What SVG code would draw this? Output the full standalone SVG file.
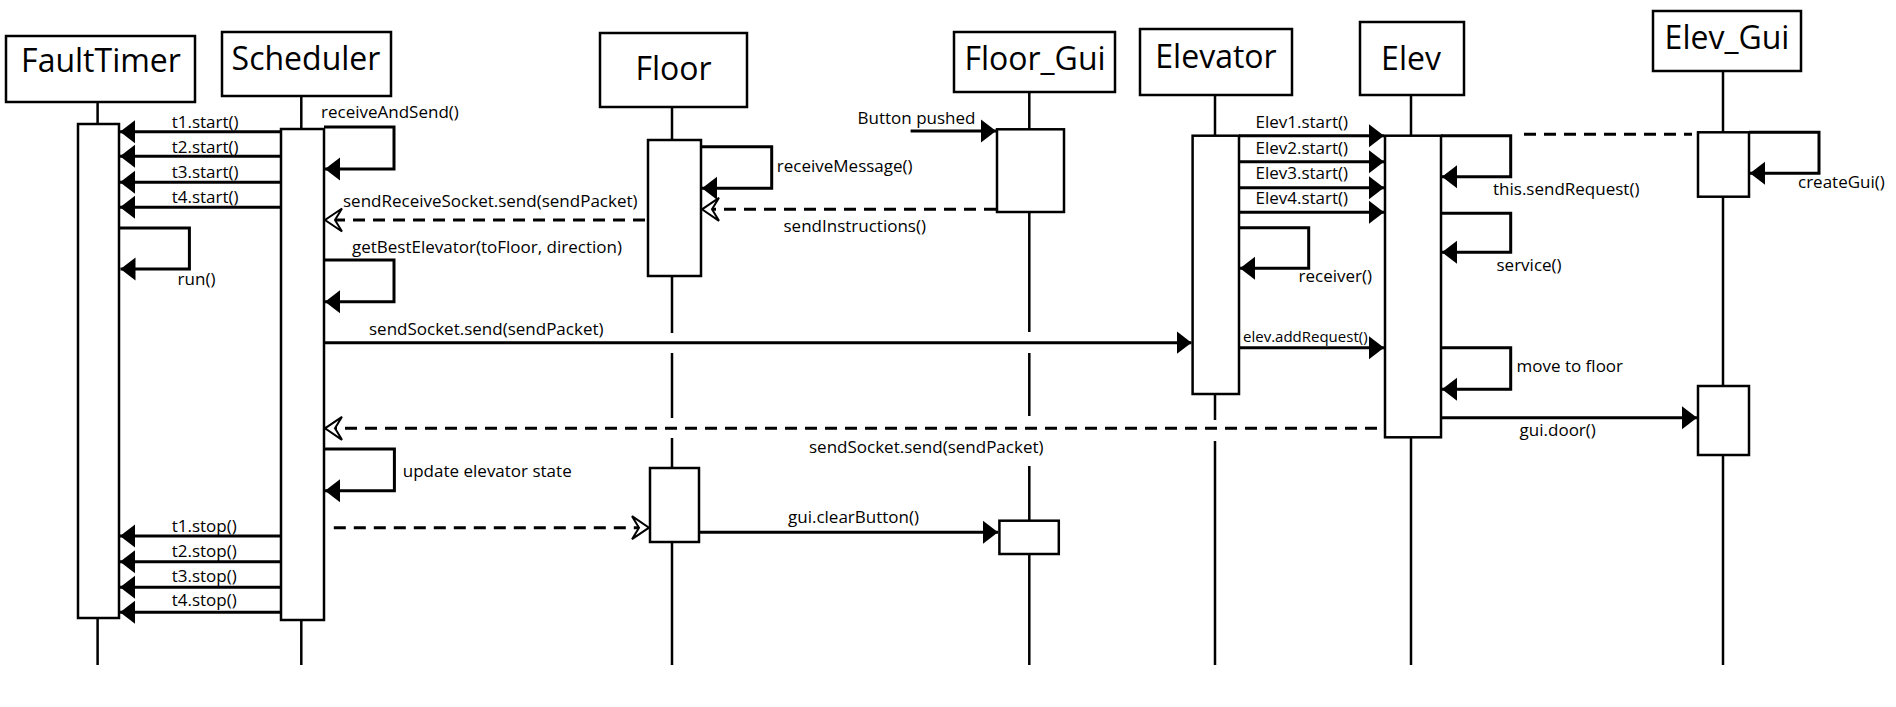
<svg xmlns="http://www.w3.org/2000/svg" width="1896" height="707" viewBox="0 0 1896 707">
<style>
.box{fill:#fff;stroke:#000;stroke-width:2.5}
.ll{stroke:#000;stroke-width:2.5;fill:none}
.msg{stroke:#000;stroke-width:3;fill:none;marker-end:url(#fa)}
.ret{stroke:#000;stroke-width:3;fill:none;stroke-dasharray:12 8;marker-end:url(#oa)}
.dash{stroke:#000;stroke-width:3;fill:none;stroke-dasharray:12 8}
.title{font-family:"Open Sans",sans-serif;font-size:32px;text-anchor:middle;fill:#000}
.lbl{font-family:"Open Sans",sans-serif;font-size:17px;fill:#000}
.sm{font-size:15px}
</style>
<defs>
<marker id="fa" markerUnits="userSpaceOnUse" viewBox="0 -12 16 24" refX="15" refY="0" markerWidth="16" markerHeight="24" orient="auto">
<path d="M0,-11.5 L15,0 L0,11.5 Z" fill="#000"/>
</marker>
<marker id="oa" markerUnits="userSpaceOnUse" viewBox="-2 -14 22 28" refX="17" refY="0" markerWidth="22" markerHeight="28" orient="auto">
<path d="M0,-11.5 L17,0 L0,11.5 L7,0 Z" fill="#fff" stroke="#000" stroke-width="2"/>
</marker>
</defs>
<rect width="1896" height="707" fill="#fff"/>

<g id="FaultTimer">
<rect class="box" x="6" y="36" width="189" height="66"/>
<text class="title" x="101" y="72">FaultTimer</text>
<path class="ll" d="M97.6,102 V124 M97.6,618 V665"/>
<rect class="box" x="78" y="124" width="41" height="494"/>
</g>

<g id="Scheduler">
<rect class="box" x="222" y="32" width="169" height="64"/>
<text class="title" x="306" y="70">Scheduler</text>
<path class="ll" d="M301.3,96 V129 M301.3,620 V665"/>
<rect class="box" x="281" y="129" width="43" height="491"/>
</g>

<g id="Floor">
<rect class="box" x="600" y="33" width="147" height="74"/>
<text class="title" x="673.5" y="80">Floor</text>
<path class="ll" d="M672,107 V140 M672,276 V333 M672,353 V418 M672,438 V468 M672,542 V665"/>
<rect class="box" x="648" y="140" width="53" height="136"/>
<rect class="box" x="650" y="468" width="49" height="74"/>
</g>

<g id="Floor_Gui">
<rect class="box" x="954" y="32" width="161" height="60"/>
<text class="title" x="1035" y="70">Floor_Gui</text>
<path class="ll" d="M1029.3,92 V129 M1029.3,212 V332 M1029.3,353 V416 M1029.3,466 V521 M1029.3,554 V665"/>
<rect class="box" x="997" y="129.3" width="67" height="82.7"/>
<rect class="box" x="999.4" y="520.7" width="59.4" height="33.3"/>
</g>

<g id="Elevator">
<rect class="box" x="1140" y="29" width="152" height="66"/>
<text class="title" x="1216" y="68">Elevator</text>
<path class="ll" d="M1215,95 V136 M1215,394 V420 M1215,441 V665"/>
<rect class="box" x="1192.6" y="135.7" width="46.4" height="258.3"/>
</g>

<g id="Elev">
<rect class="box" x="1360" y="22" width="104" height="73"/>
<text class="title" x="1411" y="70">Elev</text>
<path class="ll" d="M1411,95 V136 M1411,437 V665"/>
<rect class="box" x="1385" y="135.7" width="56" height="301.6"/>
</g>

<g id="Elev_Gui">
<rect class="box" x="1653" y="11" width="148" height="60"/>
<text class="title" x="1727" y="49">Elev_Gui</text>
<path class="ll" d="M1723,71 V132 M1723,197 V386 M1723,455 V665"/>
<rect class="box" x="1698" y="132.3" width="51" height="64.4"/>
<rect class="box" x="1698" y="386" width="51" height="69"/>
</g>

<g id="connectors">
<path class="msg" d="M280.7,131.7 H120"/>
<path class="msg" d="M280.7,156.3 H120"/>
<path class="msg" d="M280.7,182.3 H120"/>
<path class="msg" d="M280.7,207.3 H120"/>
<text class="lbl" x="171.7" y="128.3">t1.start()</text>
<text class="lbl" x="171.7" y="153.3">t2.start()</text>
<text class="lbl" x="171.7" y="178.3">t3.start()</text>
<text class="lbl" x="171.7" y="202.7">t4.start()</text>

<path class="msg" d="M324,127 H394 V169 H325"/>
<text class="lbl" x="321" y="118.3">receiveAndSend()</text>

<path class="ret" d="M645,220 H325"/>
<text class="lbl" x="343" y="207.3">sendReceiveSocket.send(sendPacket)</text>

<path class="msg" d="M324,260 H394 V301.7 H325"/>
<text class="lbl" x="352" y="253.3">getBestElevator(toFloor, direction)</text>

<path class="msg" d="M119,228 H189.4 V269 H120.5"/>
<text class="lbl" x="177.6" y="285">run()</text>

<path class="msg" d="M324,342.7 H1191.5"/>
<text class="lbl" x="369" y="335">sendSocket.send(sendPacket)</text>

<path class="msg" d="M701,146.7 H771.7 V188.3 H702"/>
<text class="lbl" x="776.8" y="171.7">receiveMessage()</text>

<path class="ret" d="M996,209.3 H702"/>
<text class="lbl" x="783.5" y="232.3">sendInstructions()</text>

<path class="msg" d="M910.6,131 H996"/>
<text class="lbl" x="857.6" y="124">Button pushed</text>

<path class="msg" d="M1239,135.7 H1384"/>
<path class="msg" d="M1239,161.7 H1384"/>
<path class="msg" d="M1239,187.7 H1384"/>
<path class="msg" d="M1239,212.3 H1384"/>
<text class="lbl" x="1255.5" y="128.3">Elev1.start()</text>
<text class="lbl" x="1255.5" y="154">Elev2.start()</text>
<text class="lbl" x="1255.5" y="179.3">Elev3.start()</text>
<text class="lbl" x="1255.5" y="204.3">Elev4.start()</text>

<path class="msg" d="M1239,227.7 H1308.7 V268.3 H1240"/>
<text class="lbl" x="1298.5" y="281.7">receiver()</text>

<path class="msg" d="M1239,347.7 H1384"/>
<text class="lbl sm" x="1243" y="341.7">elev.addRequest()</text>

<path class="msg" d="M1441,135.7 H1510.7 V176.7 H1442"/>
<text class="lbl" x="1493" y="195">this.sendRequest()</text>

<path class="dash" d="M1524,134.3 H1692"/>

<path class="msg" d="M1749,132.3 H1819 V173.3 H1750"/>
<text class="lbl" x="1798" y="188.3">createGui()</text>

<path class="msg" d="M1441,213.3 H1510.7 V252.3 H1442"/>
<text class="lbl" x="1496.5" y="270.7">service()</text>

<path class="msg" d="M1441,347.7 H1510.7 V389.3 H1442"/>
<text class="lbl" x="1516.5" y="371.7">move to floor</text>

<path class="msg" d="M1441,417.7 H1697"/>
<text class="lbl" x="1519.6" y="436">gui.door()</text>

<path class="ret" d="M1377,428.3 H325"/>
<text class="lbl" x="809" y="453.3">sendSocket.send(sendPacket)</text>

<path class="msg" d="M324,449 H394.4 V490.7 H325"/>
<text class="lbl" x="402.8" y="476.7">update elevator state</text>

<path class="ret" d="M333.8,527.7 H649"/>

<path class="msg" d="M699.3,532.3 H998"/>
<text class="lbl" x="788" y="523.3">gui.clearButton()</text>

<path class="msg" d="M280.7,536 H120"/>
<path class="msg" d="M280.7,561.7 H120"/>
<path class="msg" d="M280.7,587.3 H120"/>
<path class="msg" d="M280.7,612.3 H120"/>
<text class="lbl" x="171.7" y="531.7">t1.stop()</text>
<text class="lbl" x="171.7" y="556.7">t2.stop()</text>
<text class="lbl" x="171.7" y="581.7">t3.stop()</text>
<text class="lbl" x="171.7" y="606">t4.stop()</text>
</g>
</svg>
